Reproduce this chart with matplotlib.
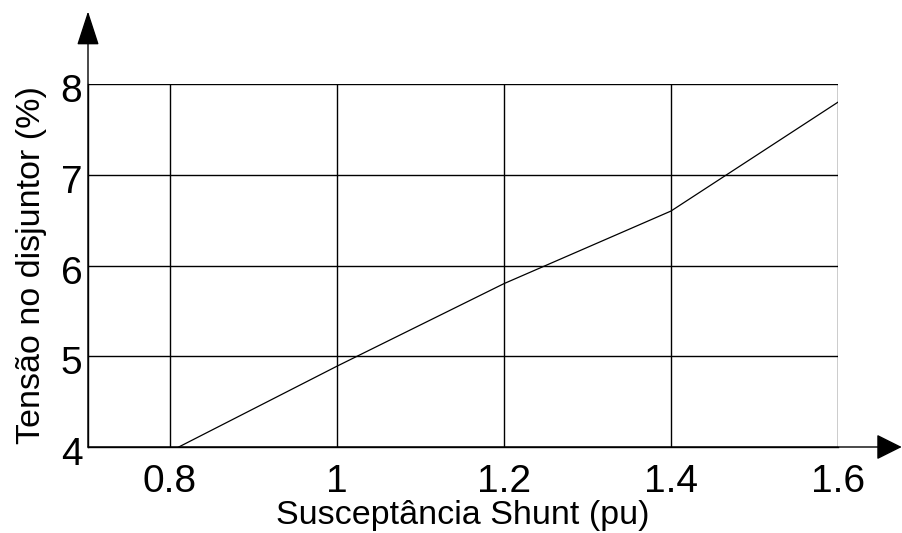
import matplotlib
matplotlib.use("Agg")
import matplotlib.pyplot as plt
import matplotlib.transforms as mtransforms

plt.rcParams['font.family'] = ['Liberation Sans', 'DejaVu Sans']

x_vals = [0.8, 1.0, 1.2, 1.4, 1.6]
y_vals = [3.95, 4.89, 5.8, 6.6, 7.8]
x_ticks = [0.8, 1.0, 1.2, 1.4, 1.6]
x_tick_labels = ['0.8', '1', '1.2', '1.4', '1.6']
y_ticks = [4, 5, 6, 7, 8]
y_tick_labels = ['4', '5', '6', '7', '8']

fig = plt.figure(figsize=(9.02, 5.33), dpi=100)
ax = fig.add_axes([88/902, 1-447/533, 750/902, 363/533])

ax.plot(x_vals, y_vals, color='black', lw=0.9)
ax.set_xlim(0.702, 1.6)
ax.set_ylim(4, 8)
ax.set_xticks(x_ticks)
ax.set_xticklabels(x_tick_labels)
ax.set_yticks(y_ticks)
ax.set_yticklabels(y_tick_labels)
ax.grid(True, color='black', lw=1.0)
ax.tick_params(length=0, labelsize=28)
ax.tick_params(axis='x', pad=12)
ax.tick_params(axis='y', pad=4)
offset = mtransforms.ScaledTranslation(0, -4/100, fig.dpi_scale_trans)
for lab in ax.get_yticklabels():
    lab.set_transform(lab.get_transform() + offset)
for s in ['top', 'right']:
    ax.spines[s].set_visible(False)
for s in ['left', 'bottom']:
    ax.spines[s].set_linewidth(1.0)

ax.set_xlabel('Susceptância Shunt (pu)', fontsize=24.5, labelpad=0)
ax.set_ylabel('Tensão no disjuntor (%)', fontsize=24.5, labelpad=10)

ax.annotate('', xy=(0, 1.2), xytext=(0, 0), xycoords='axes fraction',
            arrowprops=dict(arrowstyle='-|>,head_length=0.4,head_width=0.13',
                            mutation_scale=54, color='black', lw=1, shrinkA=0, shrinkB=0),
            annotation_clip=False)
ax.annotate('', xy=(1.085, 0), xytext=(0, 0), xycoords='axes fraction',
            arrowprops=dict(arrowstyle='-|>,head_length=0.4,head_width=0.2',
                            mutation_scale=40, color='black', lw=1, shrinkA=0, shrinkB=0),
            annotation_clip=False)

fig.savefig('out.png', dpi=100)
